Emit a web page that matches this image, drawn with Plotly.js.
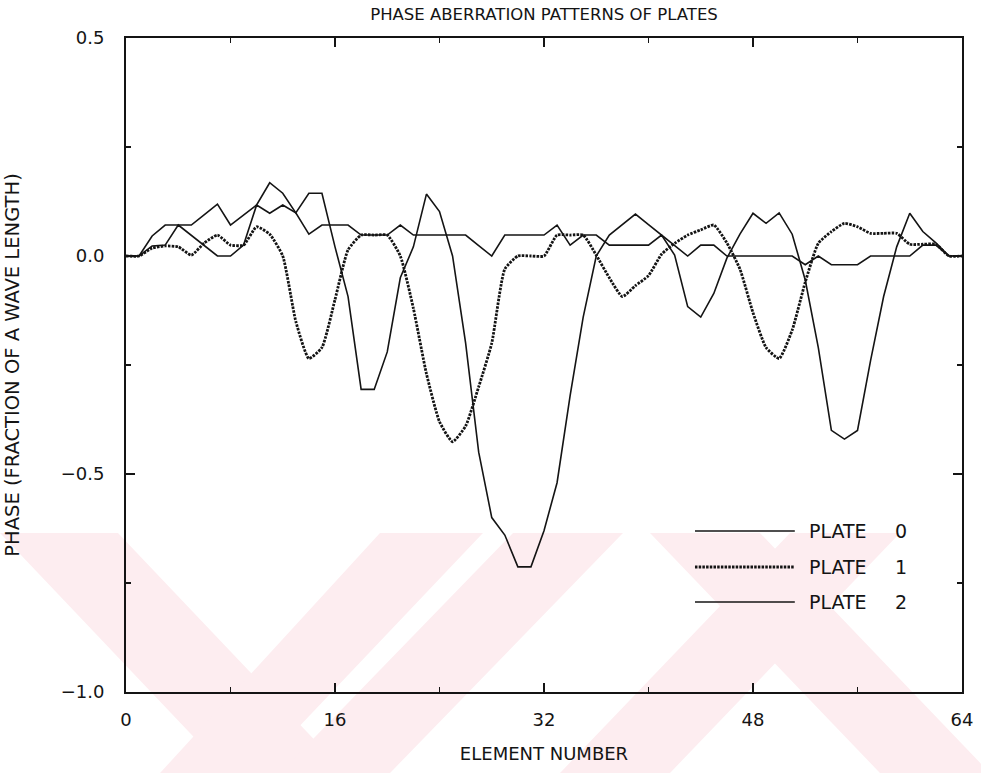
<!DOCTYPE html>
<html>
<head>
<meta charset="utf-8">
<script src="https://cdn.plot.ly/plotly-3.0.1.min.js"></script>
<style>
  html, body { margin: 0; padding: 0; background: #ffffff; }
  #chart { width: 981px; height: 773px; }
</style>
</head>
<body>
<div id="chart"></div>
<script>
// Element numbers (x values)
const elementNumber = [0,1,2,3,4,5,6,7,8,9,10,11,12,13,14,15,16,17,18,19,20,21,22,23,24,25,26,27,28,29,30,31,32,
  33,34,35,36,37,38,39,40,41,42,43,44,45,46,47,48,49,50,51,52,53,54,55,56,57,58,59,60,61,62,63,64];

// Phase (fraction of a wave length)
const plate0 = [0,0,0.023,0.025,0.071,0.048,0.024,0,0,0.025,0.117,0.098,0.117,0.099,0.050,0.071,0.071,0.071,0.048,0.048,0.048,0.071,0.048,0.048,0.048,0.048,0.048,0.024,0,0.048,0.048,0.048,0.048,
  0.071,0.025,0.048,0.048,0.025,0.025,0.025,0.025,0.048,0.025,0,0.025,0.025,0,0,0,0,0,0,-0.020,0,-0.020,-0.020,-0.020,0,0,0,0,0.025,0.025,0,0];

const plate1 = [0,0,0.018,0.023,0.021,0.002,0.030,0.048,0.025,0.025,0.067,0.050,0.000,-0.150,-0.235,-0.210,-0.100,0.014,0.048,0.048,0.048,0.000,-0.120,-0.270,-0.380,-0.426,-0.390,-0.300,-0.200,-0.030,0,0,0,
  0.048,0.048,0.048,0.002,-0.050,-0.093,-0.068,-0.045,0.004,0.029,0.048,0.060,0.071,0.030,-0.030,-0.130,-0.210,-0.235,-0.170,-0.060,0.029,0.056,0.075,0.067,0.052,0.052,0.052,0.027,0.027,0.027,0,0];

const plate2 = [0,0,0.046,0.071,0.071,0.071,0.095,0.119,0.071,0.094,0.117,0.168,0.144,0.099,0.144,0.144,0.021,-0.093,-0.306,-0.306,-0.220,-0.050,0.021,0.142,0.102,0.000,-0.200,-0.450,-0.600,-0.640,-0.713,-0.713,-0.630,
  -0.520,-0.320,-0.140,0.000,0.048,0.072,0.096,0.072,0.048,0.002,-0.116,-0.140,-0.086,-0.005,0.050,0.098,0.075,0.099,0.050,-0.055,-0.210,-0.400,-0.420,-0.400,-0.240,-0.093,0.021,0.098,0.056,0.030,0,0];

const seriesNames = ["PLATE", "PLATE", "PLATE"];
const seriesNumbers = ["0", "1", "2"];
const xTicks = [0,16,32,48,64];
const yTicks = [-1.0,-0.5,0.0,0.5];

const ink = "#141414";
const fontFam = "'DejaVu Sans', Verdana, sans-serif";
const dotDash = "2.5px,1.2px";

const traces = [
  {x: elementNumber, y: plate0, name: "PLATE 0", mode: "lines",
   line: {color: ink, width: 1.6}},
  {x: elementNumber, y: plate2, name: "PLATE 2", mode: "lines",
   line: {color: ink, width: 1.6}},
  {x: elementNumber, y: plate1, name: "PLATE 1", mode: "lines",
   line: {color: ink, width: 2.8, dash: dotDash, shape: "spline", smoothing: 0.5}}
];

// ---- faint background watermark (pink diagonal bands), in paper coordinates ----
const PL = 126, PR = 962, PT = 38, PB = 692;
function px2paper(px, py) { return [(px - PL) / (PR - PL), (PB - py) / (PB - PT)]; }
function bandPath(pts) {
  return pts.map((p, i) => { const q = px2paper(p[0], p[1]); return (i ? "L" : "M") + q[0].toFixed(4) + "," + q[1].toFixed(4); }).join(" ") + " Z";
}
const wmTop = 533, wmBot = 773;
const wmBands = [
  [[0, wmTop], [118, wmTop], [346, wmBot], [228, wmBot]],
  [[380, wmTop], [483, wmTop], [255, wmBot], [160, wmBot]],
  [[513, wmTop], [623, wmTop], [390, wmBot], [280, wmBot]],
  [[790, wmTop], [900, wmTop], [670, wmBot], [560, wmBot]],
  [[650, wmTop], [760, wmTop], [990, wmBot], [880, wmBot]]
];
const shapes = wmBands.map(b => ({type: "path", xref: "paper", yref: "paper", path: bandPath(b),
  fillcolor: "#fdedf0", line: {width: 0}, layer: "below"}));

// ---- manual legend (long line samples as in the original) ----
const legX0 = 0.6806, legX1 = 0.800;
const legY = [0.2462, 0.1911, 0.1376];
const legDash = ["solid", dotDash, "solid"];
const legW = [1.6, 2.8, 1.6];
const annotations = [];
for (let i = 0; i < 3; i++) {
  shapes.push({type: "line", xref: "paper", yref: "paper", x0: legX0, x1: legX1, y0: legY[i], y1: legY[i],
    line: {color: ink, width: legW[i], dash: legDash[i]}});
  annotations.push({xref: "paper", yref: "paper", x: 0.8146, y: legY[i], xanchor: "left", yanchor: "middle",
    text: seriesNames[i], showarrow: false, font: {family: fontFam, size: 19, color: ink}});
  annotations.push({xref: "paper", yref: "paper", x: 0.927, y: legY[i], xanchor: "center", yanchor: "middle",
    text: seriesNumbers[i], showarrow: false, font: {family: fontFam, size: 19, color: ink}});
}

const layout = {
  width: 981, height: 773,
  margin: {l: PL, r: 981 - PR, t: PT, b: 773 - PB},
  paper_bgcolor: "#ffffff", plot_bgcolor: "rgba(0,0,0,0)",
  showlegend: false,
  font: {family: fontFam, color: ink, size: 17},
  title: {text: "PHASE ABERRATION PATTERNS OF PLATES", x: 0.5, xref: "paper", y: 0.981, yref: "container",
          yanchor: "middle", font: {family: fontFam, size: 16.5, color: ink}},
  xaxis: {
    range: [0, 64], tickvals: xTicks, ticktext: xTicks.map(String),
    ticks: "inside", ticklen: 9, tickwidth: 1.5, tickcolor: ink,
    minor: {tickvals: [8,24,40,56], ticks: "inside", ticklen: 5, tickwidth: 1.3, tickcolor: ink},
    showline: true, linecolor: ink, linewidth: 2, mirror: "ticks",
    showgrid: false, zeroline: false,
    ticklabelstandoff: 10,
    tickfont: {family: fontFam, size: 18, color: ink},
    title: {text: "ELEMENT NUMBER", font: {family: fontFam, size: 18, color: ink}, standoff: 19}
  },
  yaxis: {
    range: [-1, 0.5], tickvals: yTicks, tickformat: ".1f",
    ticks: "inside", ticklen: 9, tickwidth: 1.5, tickcolor: ink,
    minor: {tickvals: [-0.75,-0.25,0.25], ticks: "inside", ticklen: 5, tickwidth: 1.3, tickcolor: ink},
    showline: true, linecolor: ink, linewidth: 2, mirror: "ticks",
    showgrid: false, zeroline: false,
    ticklabelstandoff: 16,
    tickfont: {family: fontFam, size: 18, color: ink},
    title: {text: "PHASE (FRACTION OF A WAVE LENGTH)", font: {family: fontFam, size: 19.5, color: ink}, standoff: 36}
  },
  shapes: shapes,
  annotations: annotations
};

Plotly.newPlot("chart", traces, layout, {displayModeBar: false, staticPlot: true});
</script>
</body>
</html>
